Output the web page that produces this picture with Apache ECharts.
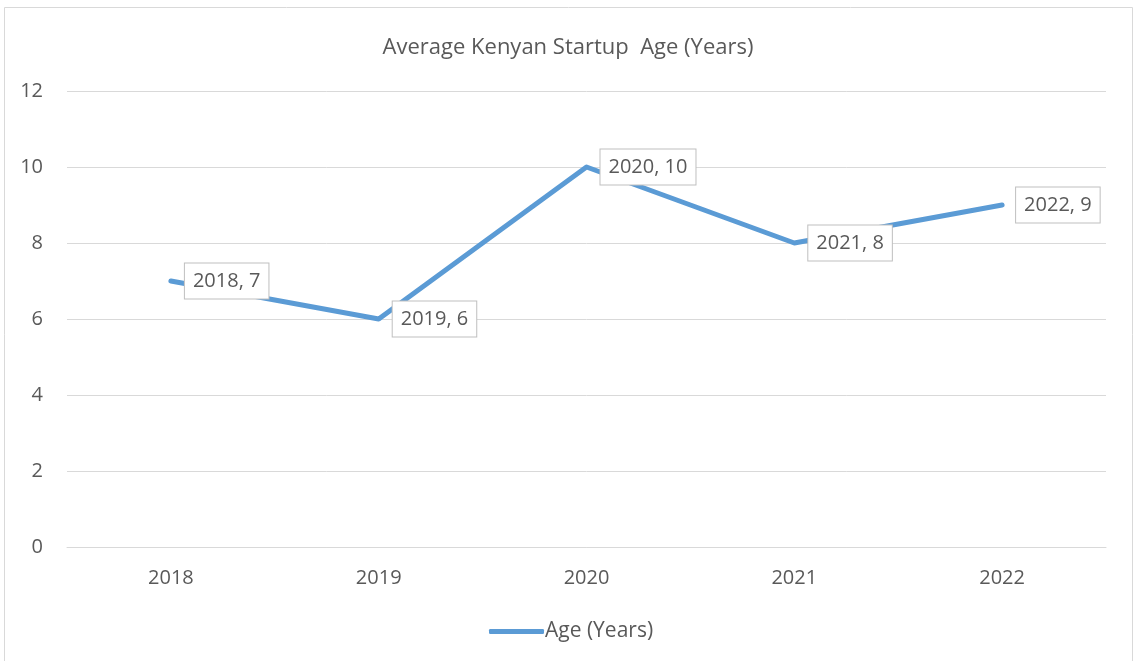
<!DOCTYPE html>
<html>
<head>
<meta charset="utf-8">
<script src="https://cdn.jsdelivr.net/npm/echarts@6/dist/echarts.min.js"></script>
<style>
  html, body { margin: 0; padding: 0; background: #fff; }
  #chart { width: 1136px; height: 661px; }
</style>
</head>
<body>
<div id="chart"></div>
<script>
// data
const years = ['2018', '2019', '2020', '2021', '2022'];
const ageYears = [7, 6, 10, 8, 9];

const font = "'Open Sans', 'Noto Sans', sans-serif";
const txt = '#595959';

const chart = echarts.init(document.getElementById('chart'));

chart.setOption({
  animation: false,
  textStyle: { fontFamily: font },
  title: {
    text: 'Average Kenyan Startup  Age (Years)',
    left: 'center',
    top: 32,
    textStyle: { color: txt, fontSize: 22, fontWeight: 'normal', fontFamily: font }
  },
  graphic: [{
    type: 'rect',
    shape: { x: 4.5, y: 7.5, width: 1128, height: 670 },
    style: { fill: 'none', stroke: '#d9d9d9', lineWidth: 1 },
    silent: true
  }],
  legend: {
    bottom: 14,
    left: 484,
    itemWidth: 55,
    itemHeight: 5,
    itemGap: 10,
    textStyle: { color: txt, fontSize: 21, fontFamily: font, padding: [0, 0, 0, -4] },
    data: [{ name: 'Age (Years)', icon: 'roundRect' }]
  },
  grid: { left: 67, right: 30, top: 91, bottom: 114 },
  xAxis: {
    type: 'category',
    data: years,
    axisLine: { lineStyle: { color: '#d9d9d9' } },
    axisTick: { show: false },
    axisLabel: { color: txt, fontSize: 20, margin: 21, fontFamily: font }
  },
  yAxis: {
    type: 'value',
    min: 0,
    max: 12,
    interval: 2,
    axisLine: { show: false },
    axisTick: { show: false },
    axisLabel: { color: txt, fontSize: 20, margin: 24, fontFamily: font },
    splitLine: { lineStyle: { color: '#d9d9d9' } }
  },
  series: [{
    name: 'Age (Years)',
    type: 'line',
    data: ageYears,
    symbol: 'circle',
    symbolSize: 0,
    itemStyle: { color: '#5b9bd5' },
    lineStyle: { color: '#5b9bd5', width: 5, cap: 'round', join: 'round' },
    label: {
      show: true,
      position: 'right',
      distance: 14,
      formatter: (p) => p.name + ', ' + p.value,
      color: txt,
      fontSize: 20,
      lineHeight: 20,
      fontFamily: font,
      backgroundColor: '#fff',
      borderColor: '#bfbfbf',
      borderWidth: 1,
      padding: [8, 8, 7, 8]
    }
  }]
});
</script>
</body>
</html>
